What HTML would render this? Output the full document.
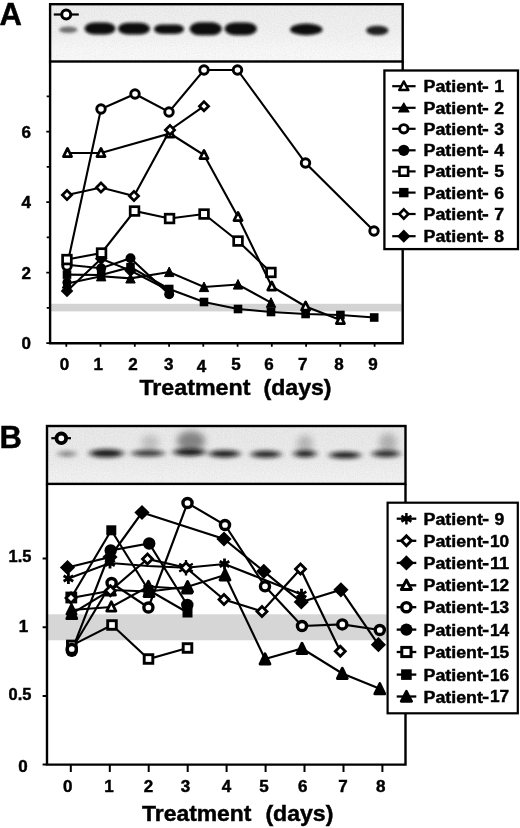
<!DOCTYPE html>
<html><head><meta charset="utf-8"><title>Figure</title>
<style>html,body{margin:0;padding:0;background:#fff}svg{display:block;filter:blur(0.35px)}text{font-family:"Liberation Sans",sans-serif;fill:#000;stroke:#000;stroke-width:0.45px}</style>
</head><body>
<svg width="520" height="828" viewBox="0 0 520 828">
<defs>
<filter id="b1" x="-20%" y="-60%" width="140%" height="220%"><feGaussianBlur stdDeviation="1.7 1.4"/></filter>
<filter id="b2" x="-20%" y="-80%" width="140%" height="260%"><feGaussianBlur stdDeviation="3.0 1.9"/></filter>
<filter id="b3" x="-30%" y="-30%" width="160%" height="160%"><feGaussianBlur stdDeviation="3.5"/></filter>
<filter id="nz" x="0" y="0" width="100%" height="100%" color-interpolation-filters="sRGB"><feTurbulence type="fractalNoise" baseFrequency="0.9" numOctaves="2" seed="3" result="t"/><feColorMatrix in="t" type="matrix" values="0 0 0 0 0  0 0 0 0 0  0 0 0 0 0  0.8 0.8 0.8 0 -0.95"/></filter>
<linearGradient id="gB" x1="0" y1="0" x2="0" y2="1"><stop offset="0" stop-color="#eaeaea"/><stop offset="0.6" stop-color="#ececec"/><stop offset="0.8" stop-color="#f1f1f1"/><stop offset="1" stop-color="#f3f3f3"/></linearGradient>
<linearGradient id="gA" x1="0" y1="0" x2="0" y2="1"><stop offset="0" stop-color="#eeeeee"/><stop offset="0.5" stop-color="#f2f2f2"/><stop offset="0.8" stop-color="#f9f9f9"/><stop offset="1" stop-color="#fafafa"/></linearGradient>
</defs>
<rect width="520" height="828" fill="#fff"/>
<g id="gelA">
<rect x="50.1" y="4.2" width="352.6" height="57.3" fill="url(#gA)"/>
<rect x="50.1" y="4.2" width="352.6" height="57.3" fill="#888" filter="url(#nz)" opacity="0.07"/>
<rect x="59.0" y="26.6" width="18.5" height="6.4" rx="9.2" ry="3.2" fill="#444" opacity="0.75" filter="url(#b1)"/>
<rect x="84.5" y="22.4" width="31.0" height="12.0" rx="10.2" ry="6.0" fill="#0a0a0a" opacity="1" filter="url(#b1)"/>
<rect x="118.0" y="22.7" width="32.0" height="11.8" rx="10.0" ry="5.9" fill="#0a0a0a" opacity="1" filter="url(#b1)"/>
<rect x="154.0" y="24.4" width="30.0" height="9.6" rx="8.2" ry="4.8" fill="#0a0a0a" opacity="1" filter="url(#b1)"/>
<rect x="189.5" y="22.3" width="32.5" height="13.0" rx="11.0" ry="6.5" fill="#0a0a0a" opacity="1" filter="url(#b1)"/>
<rect x="224.5" y="22.4" width="32.5" height="12.8" rx="10.9" ry="6.4" fill="#0a0a0a" opacity="1" filter="url(#b1)"/>
<rect x="290.0" y="23.6" width="32.5" height="11.6" rx="16.2" ry="5.8" fill="#0a0a0a" opacity="1" filter="url(#b1)"/>
<rect x="366.0" y="25.7" width="22.5" height="9.6" rx="11.2" ry="4.8" fill="#151515" opacity="0.95" filter="url(#b1)"/>
</g>
<rect x="51.1" y="303.8" width="350.6" height="7.6" fill="#d3d3d3"/>
<g fill="none" stroke="#000" stroke-width="2.4">
<rect x="50.1" y="4.2" width="352.6" height="57.3"/>
<path d="M50.1,61.5V343.2H402.7V61.5"/>
</g>
<path d="M46.3,343.2H50.1M46.7,307.9H50.1M46.3,272.7H50.1M46.7,237.4H50.1M46.3,202.2H50.1M46.7,166.9H50.1M46.3,131.7H50.1M46.7,96.4H50.1" stroke="#000" stroke-width="1.8" fill="none"/>
<path d="M66.3,343.2V346.8M100.5,343.2V346.8M134.8,343.2V346.8M169.1,343.2V346.8M203.3,343.2V346.8M237.6,343.2V346.8M271.8,343.2V346.8M306.1,343.2V346.8M340.3,343.2V346.8M374.6,343.2V346.8" stroke="#000" stroke-width="1.8" fill="none"/>
<text x="21.6" y="349.4" font-size="17" font-weight="bold" text-anchor="start">0</text>
<text x="21.6" y="278.9" font-size="17" font-weight="bold" text-anchor="start">2</text>
<text x="21.6" y="208.4" font-size="17" font-weight="bold" text-anchor="start">4</text>
<text x="21.6" y="137.9" font-size="17" font-weight="bold" text-anchor="start">6</text>
<text x="64.4" y="370.0" font-size="17" font-weight="bold" text-anchor="middle">0</text>
<text x="98.2" y="370.0" font-size="17" font-weight="bold" text-anchor="middle">1</text>
<text x="133.0" y="370.0" font-size="17" font-weight="bold" text-anchor="middle">2</text>
<text x="168.8" y="370.0" font-size="17" font-weight="bold" text-anchor="middle">3</text>
<text x="201.5" y="372.0" font-size="17" font-weight="bold" text-anchor="middle">4</text>
<text x="236.0" y="370.0" font-size="17" font-weight="bold" text-anchor="middle">5</text>
<text x="269.0" y="370.0" font-size="17" font-weight="bold" text-anchor="middle">6</text>
<text x="302.7" y="370.0" font-size="17" font-weight="bold" text-anchor="middle">7</text>
<text x="339.0" y="370.0" font-size="17" font-weight="bold" text-anchor="middle">8</text>
<text x="373.0" y="370.0" font-size="17" font-weight="bold" text-anchor="middle">9</text>
<text x="139.4" y="395.3" font-size="22" font-weight="bold" text-anchor="start" textLength="111.0" lengthAdjust="spacingAndGlyphs">Treatment</text>
<text x="263.5" y="395.3" font-size="22" font-weight="bold" text-anchor="start" textLength="68.0" lengthAdjust="spacingAndGlyphs">(days)</text>
<text x="-0.6" y="25.0" font-size="31" font-weight="bold" text-anchor="start">A</text>
<g id="linesA">
<polyline fill="none" stroke="#000" stroke-width="2.1" points="67.5,153.0 101.0,153.0 170.0,133.5 204.0,155.0 238.0,217.0 271.8,286.5 305.6,306.5 340.4,320.0"/>
<polyline fill="none" stroke="#000" stroke-width="2.1" points="67.0,283.5 101.2,276.3 130.5,278.4 169.2,272.0 204.0,287.0 238.0,284.5 271.0,302.7"/>
<polyline fill="none" stroke="#000" stroke-width="2.1" points="67.0,266.0 101.0,109.0 135.0,94.0 169.0,112.0 204.0,70.0 237.5,70.0 305.5,163.0 374.0,231.0"/>
<polyline fill="none" stroke="#000" stroke-width="2.1" points="67.0,264.8 101.2,268.2 130.5,258.2 169.2,294.3"/>
<polyline fill="none" stroke="#000" stroke-width="2.1" points="67.0,259.5 101.5,253.0 134.5,211.0 169.5,218.5 204.0,214.0 238.0,241.0 271.0,272.5"/>
<polyline fill="none" stroke="#000" stroke-width="2.1" points="67.0,274.6 101.2,275.0 130.5,267.2 169.2,289.0 204.0,302.0 238.0,309.0 271.0,312.0 305.6,314.0 340.4,315.0 374.2,317.5"/>
<polyline fill="none" stroke="#000" stroke-width="2.1" points="67.0,195.0 101.0,187.5 134.0,196.0 170.0,130.0 204.0,106.2"/>
<polyline fill="none" stroke="#000" stroke-width="2.1" points="67.0,291.0 101.2,258.8 130.5,270.6"/>
<polyline fill="none" stroke="#000" stroke-width="2.1" points="130.5,270.6 169.2,290.5"/>
</g><g id="marksA">
<polygon points="67.0,278.5 71.7,288.1 62.3,288.1" fill="#000" stroke="#000" stroke-width="1.0" stroke-linejoin="round"/>
<polygon points="101.2,271.3 105.9,280.9 96.5,280.9" fill="#000" stroke="#000" stroke-width="1.0" stroke-linejoin="round"/>
<polygon points="130.5,273.4 135.2,283.0 125.8,283.0" fill="#000" stroke="#000" stroke-width="1.0" stroke-linejoin="round"/>
<polygon points="169.2,267.0 173.9,276.6 164.5,276.6" fill="#000" stroke="#000" stroke-width="1.0" stroke-linejoin="round"/>
<polygon points="204.0,282.0 208.7,291.6 199.3,291.6" fill="#000" stroke="#000" stroke-width="1.0" stroke-linejoin="round"/>
<polygon points="238.0,279.5 242.7,289.1 233.3,289.1" fill="#000" stroke="#000" stroke-width="1.0" stroke-linejoin="round"/>
<polygon points="271.0,297.7 275.7,307.3 266.3,307.3" fill="#000" stroke="#000" stroke-width="1.0" stroke-linejoin="round"/>
<circle cx="67.0" cy="264.8" r="5.0" fill="#000"/>
<circle cx="101.2" cy="268.2" r="5.0" fill="#000"/>
<circle cx="130.5" cy="258.2" r="5.0" fill="#000"/>
<circle cx="169.2" cy="294.3" r="5.0" fill="#000"/>
<circle cx="67.0" cy="282.6" r="4.6" fill="#000"/>
<rect x="62.7" y="270.3" width="8.6" height="8.6" fill="#000"/>
<rect x="96.9" y="270.7" width="8.6" height="8.6" fill="#000"/>
<rect x="126.2" y="262.9" width="8.6" height="8.6" fill="#000"/>
<rect x="164.9" y="284.7" width="8.6" height="8.6" fill="#000"/>
<rect x="199.7" y="297.7" width="8.6" height="8.6" fill="#000"/>
<rect x="233.7" y="304.7" width="8.6" height="8.6" fill="#000"/>
<rect x="266.7" y="307.7" width="8.6" height="8.6" fill="#000"/>
<rect x="301.3" y="309.7" width="8.6" height="8.6" fill="#000"/>
<rect x="336.1" y="310.7" width="8.6" height="8.6" fill="#000"/>
<rect x="369.9" y="313.2" width="8.6" height="8.6" fill="#000"/>
<polygon points="67.0,284.7 73.3,291.0 67.0,297.3 60.7,291.0" fill="#000"/>
<polygon points="101.2,252.5 107.5,258.8 101.2,265.1 94.9,258.8" fill="#000"/>
<polygon points="130.5,264.3 136.8,270.6 130.5,276.9 124.2,270.6" fill="#000"/>
<polygon points="67.5,148.4 71.6,156.6 63.4,156.6" fill="#fff" stroke="#000" stroke-width="2.7" stroke-linejoin="round"/>
<polygon points="101.0,148.4 105.1,156.6 96.9,156.6" fill="#fff" stroke="#000" stroke-width="2.7" stroke-linejoin="round"/>
<polygon points="170.0,128.9 174.1,137.1 165.9,137.1" fill="#fff" stroke="#000" stroke-width="2.7" stroke-linejoin="round"/>
<polygon points="204.0,150.4 208.1,158.6 199.9,158.6" fill="#fff" stroke="#000" stroke-width="2.7" stroke-linejoin="round"/>
<polygon points="238.0,212.4 242.1,220.6 233.9,220.6" fill="#fff" stroke="#000" stroke-width="2.7" stroke-linejoin="round"/>
<polygon points="271.8,281.9 275.9,290.1 267.7,290.1" fill="#fff" stroke="#000" stroke-width="2.7" stroke-linejoin="round"/>
<polygon points="305.6,301.9 309.7,310.1 301.5,310.1" fill="#fff" stroke="#000" stroke-width="2.7" stroke-linejoin="round"/>
<polygon points="340.4,315.4 344.5,323.6 336.3,323.6" fill="#fff" stroke="#000" stroke-width="2.7" stroke-linejoin="round"/>
<circle cx="67.0" cy="266.0" r="4.25" fill="#fff" stroke="#000" stroke-width="2.9"/>
<circle cx="101.0" cy="109.0" r="4.25" fill="#fff" stroke="#000" stroke-width="2.9"/>
<circle cx="135.0" cy="94.0" r="4.25" fill="#fff" stroke="#000" stroke-width="2.9"/>
<circle cx="169.0" cy="112.0" r="4.25" fill="#fff" stroke="#000" stroke-width="2.9"/>
<circle cx="204.0" cy="70.0" r="4.25" fill="#fff" stroke="#000" stroke-width="2.9"/>
<circle cx="237.5" cy="70.0" r="4.25" fill="#fff" stroke="#000" stroke-width="2.9"/>
<circle cx="305.5" cy="163.0" r="4.25" fill="#fff" stroke="#000" stroke-width="2.9"/>
<circle cx="374.0" cy="231.0" r="4.25" fill="#fff" stroke="#000" stroke-width="2.9"/>
<rect x="62.6" y="255.2" width="8.7" height="8.7" fill="#fff" stroke="#000" stroke-width="2.7"/>
<rect x="97.2" y="248.7" width="8.7" height="8.7" fill="#fff" stroke="#000" stroke-width="2.7"/>
<rect x="130.2" y="206.7" width="8.7" height="8.7" fill="#fff" stroke="#000" stroke-width="2.7"/>
<rect x="165.2" y="214.2" width="8.7" height="8.7" fill="#fff" stroke="#000" stroke-width="2.7"/>
<rect x="199.7" y="209.7" width="8.7" height="8.7" fill="#fff" stroke="#000" stroke-width="2.7"/>
<rect x="233.7" y="236.7" width="8.7" height="8.7" fill="#fff" stroke="#000" stroke-width="2.7"/>
<rect x="266.6" y="268.1" width="8.7" height="8.7" fill="#fff" stroke="#000" stroke-width="2.7"/>
<polygon points="67.0,190.4 71.6,195.0 67.0,199.6 62.4,195.0" fill="#fff" stroke="#000" stroke-width="2.7"/>
<polygon points="101.0,182.9 105.6,187.5 101.0,192.1 96.4,187.5" fill="#fff" stroke="#000" stroke-width="2.7"/>
<polygon points="134.0,191.4 138.6,196.0 134.0,200.6 129.4,196.0" fill="#fff" stroke="#000" stroke-width="2.7"/>
<polygon points="170.0,125.4 174.6,130.0 170.0,134.6 165.4,130.0" fill="#fff" stroke="#000" stroke-width="2.7"/>
<polygon points="204.0,101.6 208.6,106.2 204.0,110.8 199.4,106.2" fill="#fff" stroke="#000" stroke-width="2.7"/>
</g>
<path d="M53.8,14.5H78.8" stroke="#000" stroke-width="2.2"/><circle cx="66.2" cy="14.5" r="4.5" fill="#fff" stroke="#000" stroke-width="3.0"/>
<rect x="384.4" y="70.5" width="133.6" height="178.6" fill="#fff" stroke="#000" stroke-width="2.3"/>
<path d="M392.2,86.2H415.6" stroke="#000" stroke-width="2.2"/>
<polygon points="403.8,81.5 408.3,90.0 399.3,90.0" fill="#fff" stroke="#000" stroke-width="2.6" stroke-linejoin="round"/>
<text x="423.5" y="92.2" font-size="16.8" font-weight="bold" text-anchor="start" textLength="59.4" lengthAdjust="spacingAndGlyphs">Patient</text>
<rect x="482.4" y="86.3" width="5.8" height="2.6" fill="#000"/>
<text x="494.2" y="92.1" font-size="16.8" font-weight="bold" text-anchor="start" textLength="9.8" lengthAdjust="spacingAndGlyphs">1</text>
<path d="M392.2,107.8H415.6" stroke="#000" stroke-width="2.2"/>
<polygon points="403.8,103.0 409.0,112.0 398.6,112.0" fill="#000" stroke="#000" stroke-width="1.2" stroke-linejoin="round"/>
<text x="423.5" y="113.8" font-size="16.8" font-weight="bold" text-anchor="start" textLength="59.4" lengthAdjust="spacingAndGlyphs">Patient</text>
<rect x="482.4" y="107.9" width="5.8" height="2.6" fill="#000"/>
<text x="494.2" y="113.7" font-size="16.8" font-weight="bold" text-anchor="start" textLength="9.8" lengthAdjust="spacingAndGlyphs">2</text>
<path d="M392.2,128.8H415.6" stroke="#000" stroke-width="2.2"/>
<circle cx="403.8" cy="128.8" r="4.2" fill="#fff" stroke="#000" stroke-width="2.9"/>
<text x="423.5" y="134.8" font-size="16.8" font-weight="bold" text-anchor="start" textLength="59.4" lengthAdjust="spacingAndGlyphs">Patient</text>
<rect x="482.4" y="128.9" width="5.8" height="2.6" fill="#000"/>
<text x="494.2" y="134.7" font-size="16.8" font-weight="bold" text-anchor="start" textLength="9.8" lengthAdjust="spacingAndGlyphs">3</text>
<path d="M392.2,150.3H415.6" stroke="#000" stroke-width="2.2"/>
<circle cx="403.8" cy="150.3" r="5.6" fill="#000"/>
<text x="423.5" y="156.3" font-size="16.8" font-weight="bold" text-anchor="start" textLength="59.4" lengthAdjust="spacingAndGlyphs">Patient</text>
<rect x="482.4" y="150.4" width="5.8" height="2.6" fill="#000"/>
<text x="494.2" y="156.2" font-size="16.8" font-weight="bold" text-anchor="start" textLength="9.8" lengthAdjust="spacingAndGlyphs">4</text>
<path d="M392.2,171.4H415.6" stroke="#000" stroke-width="2.2"/>
<rect x="399.5" y="167.1" width="8.6" height="8.6" fill="#fff" stroke="#000" stroke-width="2.6"/>
<text x="423.5" y="177.4" font-size="16.8" font-weight="bold" text-anchor="start" textLength="59.4" lengthAdjust="spacingAndGlyphs">Patient</text>
<rect x="482.4" y="171.5" width="5.8" height="2.6" fill="#000"/>
<text x="494.2" y="177.3" font-size="16.8" font-weight="bold" text-anchor="start" textLength="9.8" lengthAdjust="spacingAndGlyphs">5</text>
<path d="M392.2,192.6H415.6" stroke="#000" stroke-width="2.2"/>
<rect x="399.1" y="187.9" width="9.4" height="9.4" fill="#000"/>
<text x="423.5" y="198.6" font-size="16.8" font-weight="bold" text-anchor="start" textLength="59.4" lengthAdjust="spacingAndGlyphs">Patient</text>
<rect x="482.4" y="192.7" width="5.8" height="2.6" fill="#000"/>
<text x="494.2" y="198.5" font-size="16.8" font-weight="bold" text-anchor="start" textLength="9.8" lengthAdjust="spacingAndGlyphs">6</text>
<path d="M392.2,214.0H415.6" stroke="#000" stroke-width="2.2"/>
<polygon points="403.8,209.4 408.4,214.0 403.8,218.6 399.2,214.0" fill="#fff" stroke="#000" stroke-width="2.6"/>
<text x="423.5" y="220.0" font-size="16.8" font-weight="bold" text-anchor="start" textLength="59.4" lengthAdjust="spacingAndGlyphs">Patient</text>
<rect x="482.4" y="214.1" width="5.8" height="2.6" fill="#000"/>
<text x="494.2" y="219.9" font-size="16.8" font-weight="bold" text-anchor="start" textLength="9.8" lengthAdjust="spacingAndGlyphs">7</text>
<path d="M392.2,236.2H415.6" stroke="#000" stroke-width="2.2"/>
<polygon points="403.8,229.6 410.4,236.2 403.8,242.8 397.2,236.2" fill="#000"/>
<text x="423.5" y="242.2" font-size="16.8" font-weight="bold" text-anchor="start" textLength="59.4" lengthAdjust="spacingAndGlyphs">Patient</text>
<rect x="482.4" y="236.3" width="5.8" height="2.6" fill="#000"/>
<text x="494.2" y="242.1" font-size="16.8" font-weight="bold" text-anchor="start" textLength="9.8" lengthAdjust="spacingAndGlyphs">8</text>
<g id="gelB">
<rect x="47.0" y="426.0" width="358.5" height="57.9" fill="url(#gB)"/>
<rect x="47.0" y="426.0" width="358.5" height="57.9" fill="#888" filter="url(#nz)" opacity="0.07"/>
<ellipse cx="150.0" cy="443.0" rx="9.0" ry="8.0" fill="#333" opacity="0.22" filter="url(#b3)"/>
<ellipse cx="191.0" cy="441.0" rx="14.0" ry="10.0" fill="#333" opacity="0.55" filter="url(#b3)"/>
<ellipse cx="305.0" cy="444.0" rx="8.0" ry="9.0" fill="#333" opacity="0.28" filter="url(#b3)"/>
<ellipse cx="388.0" cy="443.0" rx="9.0" ry="10.0" fill="#333" opacity="0.3" filter="url(#b3)"/>
<ellipse cx="67.0" cy="453.8" rx="9.0" ry="2.6" fill="#111" opacity="0.5" filter="url(#b2)"/>
<ellipse cx="106.5" cy="453.3" rx="17.0" ry="4.0" fill="#111" opacity="0.95" filter="url(#b2)"/>
<ellipse cx="148.0" cy="453.2" rx="16.5" ry="3.2" fill="#111" opacity="0.8" filter="url(#b2)"/>
<ellipse cx="189.5" cy="452.2" rx="16.0" ry="3.7" fill="#111" opacity="0.95" filter="url(#b2)"/>
<ellipse cx="224.5" cy="453.8" rx="15.5" ry="3.6" fill="#111" opacity="0.95" filter="url(#b2)"/>
<ellipse cx="266.0" cy="454.2" rx="15.0" ry="3.5" fill="#111" opacity="0.9" filter="url(#b2)"/>
<ellipse cx="305.0" cy="453.8" rx="11.5" ry="3.5" fill="#111" opacity="0.9" filter="url(#b2)"/>
<ellipse cx="345.0" cy="455.2" rx="15.5" ry="3.4" fill="#111" opacity="0.95" filter="url(#b2)"/>
<ellipse cx="386.0" cy="453.8" rx="14.0" ry="3.5" fill="#111" opacity="0.85" filter="url(#b2)"/>
</g>
<rect x="48.0" y="614.3" width="340.0" height="26" fill="#d6d6d6"/>
<g fill="none" stroke="#000" stroke-width="2.4">
<rect x="47.0" y="426.0" width="358.5" height="57.9"/>
<path d="M47.0,483.9V764.6H405.5V483.9"/>
</g>
<path d="M42.6,764.6H47.0M42.6,695.9H47.0M42.6,627.2H47.0M42.6,558.5H47.0" stroke="#000" stroke-width="2" fill="none"/>
<path d="M70.8,764.6V772.0M109.8,764.6V772.0M148.7,764.6V772.0M187.7,764.6V772.0M226.6,764.6V772.0M265.6,764.6V772.0M304.5,764.6V772.0M343.5,764.6V772.0M382.4,764.6V772.0" stroke="#000" stroke-width="2" fill="none"/>
<text x="18.2" y="772.4" font-size="17" font-weight="bold" text-anchor="start">0</text>
<text x="8.6" y="700.1" font-size="17" font-weight="bold" text-anchor="start" textLength="22.8" lengthAdjust="spacingAndGlyphs">0.5</text>
<text x="18.8" y="632.2" font-size="17" font-weight="bold" text-anchor="start">1</text>
<text x="8.6" y="562.4" font-size="17" font-weight="bold" text-anchor="start" textLength="22.8" lengthAdjust="spacingAndGlyphs">1.5</text>
<text x="67.7" y="791.8" font-size="17" font-weight="bold" text-anchor="middle">0</text>
<text x="109.0" y="791.8" font-size="17" font-weight="bold" text-anchor="middle">1</text>
<text x="148.5" y="791.8" font-size="17" font-weight="bold" text-anchor="middle">2</text>
<text x="185.4" y="791.8" font-size="17" font-weight="bold" text-anchor="middle">3</text>
<text x="226.5" y="791.8" font-size="17" font-weight="bold" text-anchor="middle">4</text>
<text x="264.0" y="791.8" font-size="17" font-weight="bold" text-anchor="middle">5</text>
<text x="302.7" y="791.8" font-size="17" font-weight="bold" text-anchor="middle">6</text>
<text x="343.0" y="791.8" font-size="17" font-weight="bold" text-anchor="middle">7</text>
<text x="380.8" y="791.8" font-size="17" font-weight="bold" text-anchor="middle">8</text>
<text x="142.0" y="820.8" font-size="22" font-weight="bold" text-anchor="start" textLength="109.5" lengthAdjust="spacingAndGlyphs">Treatment</text>
<text x="265.4" y="820.8" font-size="22" font-weight="bold" text-anchor="start" textLength="68.0" lengthAdjust="spacingAndGlyphs">(days)</text>
<text x="-0.4" y="447.8" font-size="31" font-weight="bold" text-anchor="start">B</text>
<g id="linesB">
<polyline fill="none" stroke="#000" stroke-width="2.15" points="68.4,578.5 110.0,563.0 148.0,566.0 186.0,567.7 224.5,564.0 301.5,594.4"/>
<polyline fill="none" stroke="#000" stroke-width="2.15" points="71.0,598.0 110.4,590.7 147.5,559.0 186.0,567.7 224.0,599.5 262.0,611.4 300.5,569.0 340.3,651.3"/>
<polyline fill="none" stroke="#000" stroke-width="2.15" points="67.5,567.5 110.0,557.0 142.0,512.5 224.0,539.0 263.8,571.3 301.3,602.0 340.9,589.8 378.4,644.7"/>
<polyline fill="none" stroke="#000" stroke-width="2.15" points="71.5,610.0 111.3,607.0 148.4,586.5 187.2,589.0"/>
<polyline fill="none" stroke="#000" stroke-width="2.15" points="71.8,649.0 111.6,583.0 148.4,607.5 187.5,503.0 225.0,525.0 265.0,586.3 302.0,626.0 342.3,624.4 379.8,630.0"/>
<polyline fill="none" stroke="#000" stroke-width="2.15" points="71.8,650.8 110.7,550.5 149.2,543.5 187.3,605.0"/>
<polyline fill="none" stroke="#000" stroke-width="2.15" points="71.8,645.4 112.0,625.0 148.5,659.0 187.5,648.0"/>
<polyline fill="none" stroke="#000" stroke-width="2.15" points="71.3,597.5 111.3,530.3 148.4,590.0 187.5,612.5"/>
<polyline fill="none" stroke="#000" stroke-width="2.15" points="71.8,613.6 110.5,590.0 149.0,591.5 187.6,586.7 225.0,575.0 265.0,659.0 302.0,648.5 342.3,673.5 379.8,688.8"/>
</g><g id="marksB">
<polygon points="71.5,604.8 76.1,614.1 66.9,614.1" fill="#fff" stroke="#000" stroke-width="2.8" stroke-linejoin="round"/>
<polygon points="111.3,601.8 115.9,611.1 106.7,611.1" fill="#fff" stroke="#000" stroke-width="2.8" stroke-linejoin="round"/>
<polygon points="148.4,581.3 153.0,590.6 143.8,590.6" fill="#fff" stroke="#000" stroke-width="2.8" stroke-linejoin="round"/>
<polygon points="187.2,583.8 191.8,593.1 182.6,593.1" fill="#fff" stroke="#000" stroke-width="2.8" stroke-linejoin="round"/>
<polygon points="71.8,608.3 76.8,618.7 66.8,618.7" fill="#000" stroke="#000" stroke-width="2.8" stroke-linejoin="round"/>
<polygon points="110.5,584.7 115.5,595.1 105.5,595.1" fill="#000" stroke="#000" stroke-width="2.8" stroke-linejoin="round"/>
<polygon points="149.0,586.2 154.0,596.6 144.0,596.6" fill="#000" stroke="#000" stroke-width="2.8" stroke-linejoin="round"/>
<polygon points="187.6,581.4 192.6,591.8 182.6,591.8" fill="#000" stroke="#000" stroke-width="2.8" stroke-linejoin="round"/>
<polygon points="225.0,569.7 230.0,580.1 220.0,580.1" fill="#000" stroke="#000" stroke-width="2.8" stroke-linejoin="round"/>
<polygon points="265.0,653.7 270.0,664.1 260.0,664.1" fill="#000" stroke="#000" stroke-width="2.8" stroke-linejoin="round"/>
<polygon points="302.0,643.2 307.0,653.6 297.0,653.6" fill="#000" stroke="#000" stroke-width="2.8" stroke-linejoin="round"/>
<polygon points="342.3,668.2 347.3,678.6 337.3,678.6" fill="#000" stroke="#000" stroke-width="2.8" stroke-linejoin="round"/>
<polygon points="379.8,683.5 384.8,693.9 374.8,693.9" fill="#000" stroke="#000" stroke-width="2.8" stroke-linejoin="round"/>
<rect x="65.4" y="591.6" width="11.8" height="11.8" fill="#000"/>
<rect x="106.3" y="525.3" width="10.0" height="10.0" fill="#000"/>
<rect x="143.4" y="585.0" width="10.0" height="10.0" fill="#000"/>
<rect x="182.5" y="607.5" width="10.0" height="10.0" fill="#000"/>
<circle cx="111.6" cy="583.0" r="4.55" fill="#fff" stroke="#000" stroke-width="3.4"/>
<circle cx="148.4" cy="607.5" r="4.55" fill="#fff" stroke="#000" stroke-width="3.4"/>
<circle cx="187.5" cy="503.0" r="4.55" fill="#fff" stroke="#000" stroke-width="3.4"/>
<circle cx="225.0" cy="525.0" r="4.55" fill="#fff" stroke="#000" stroke-width="3.4"/>
<circle cx="265.0" cy="586.3" r="4.55" fill="#fff" stroke="#000" stroke-width="3.4"/>
<circle cx="302.0" cy="626.0" r="4.55" fill="#fff" stroke="#000" stroke-width="3.4"/>
<circle cx="342.3" cy="624.4" r="4.55" fill="#fff" stroke="#000" stroke-width="3.4"/>
<circle cx="379.8" cy="630.0" r="4.55" fill="#fff" stroke="#000" stroke-width="3.4"/>
<circle cx="71.8" cy="650.8" r="6.2" fill="#000"/>
<circle cx="110.7" cy="550.5" r="6.2" fill="#000"/>
<circle cx="149.2" cy="543.5" r="6.2" fill="#000"/>
<circle cx="187.3" cy="605.0" r="6.2" fill="#000"/>
<rect x="67.5" y="641.1" width="8.6" height="8.6" fill="#fff" stroke="#000" stroke-width="2.9"/>
<rect x="107.7" y="620.7" width="8.6" height="8.6" fill="#fff" stroke="#000" stroke-width="2.9"/>
<rect x="144.2" y="654.7" width="8.6" height="8.6" fill="#fff" stroke="#000" stroke-width="2.9"/>
<rect x="183.2" y="643.7" width="8.6" height="8.6" fill="#fff" stroke="#000" stroke-width="2.9"/>
<circle cx="71.8" cy="649.0" r="4.55" fill="#fff" stroke="#000" stroke-width="3.4"/>
<polygon points="67.5,559.9 75.1,567.5 67.5,575.1 59.9,567.5" fill="#000"/>
<polygon points="110.0,549.4 117.6,557.0 110.0,564.6 102.4,557.0" fill="#000"/>
<polygon points="142.0,504.9 149.6,512.5 142.0,520.1 134.4,512.5" fill="#000"/>
<polygon points="224.0,531.4 231.6,539.0 224.0,546.6 216.4,539.0" fill="#000"/>
<polygon points="263.8,563.7 271.4,571.3 263.8,578.9 256.2,571.3" fill="#000"/>
<polygon points="301.3,594.4 308.9,602.0 301.3,609.6 293.7,602.0" fill="#000"/>
<polygon points="340.9,582.2 348.5,589.8 340.9,597.4 333.3,589.8" fill="#000"/>
<polygon points="378.4,637.1 386.0,644.7 378.4,652.3 370.8,644.7" fill="#000"/>
<path d="M186.0,559.9L186.0,575.5M179.2,563.8L192.8,571.6M192.8,563.8L179.2,571.6" stroke="#000" stroke-width="2.3" fill="none"/><circle cx="186.0" cy="567.7" r="2.2" fill="#000"/>
<polygon points="71.0,593.0 76.0,598.0 71.0,603.0 66.0,598.0" fill="#fff" stroke="#000" stroke-width="2.8"/>
<polygon points="110.4,585.7 115.4,590.7 110.4,595.7 105.4,590.7" fill="#fff" stroke="#000" stroke-width="2.8"/>
<polygon points="147.5,554.0 152.5,559.0 147.5,564.0 142.5,559.0" fill="#fff" stroke="#000" stroke-width="2.8"/>
<polygon points="186.0,562.7 191.0,567.7 186.0,572.7 181.0,567.7" fill="#fff" stroke="#000" stroke-width="2.8"/>
<polygon points="224.0,594.5 229.0,599.5 224.0,604.5 219.0,599.5" fill="#fff" stroke="#000" stroke-width="2.8"/>
<polygon points="262.0,606.4 267.0,611.4 262.0,616.4 257.0,611.4" fill="#fff" stroke="#000" stroke-width="2.8"/>
<polygon points="300.5,564.0 305.5,569.0 300.5,574.0 295.5,569.0" fill="#fff" stroke="#000" stroke-width="2.8"/>
<polygon points="340.3,646.3 345.3,651.3 340.3,656.3 335.3,651.3" fill="#fff" stroke="#000" stroke-width="2.8"/>
<path d="M68.4,572.9L68.4,584.1M63.6,575.7L73.2,581.3M73.2,575.7L63.6,581.3" stroke="#000" stroke-width="2.8" fill="none"/><circle cx="68.4" cy="578.5" r="2.7" fill="#000"/>
<path d="M110.0,557.4L110.0,568.6M105.2,560.2L114.8,565.8M114.8,560.2L105.2,565.8" stroke="#000" stroke-width="2.8" fill="none"/><circle cx="110.0" cy="563.0" r="2.7" fill="#000"/>
<path d="M224.5,558.4L224.5,569.6M219.7,561.2L229.3,566.8M229.3,561.2L219.7,566.8" stroke="#000" stroke-width="2.8" fill="none"/><circle cx="224.5" cy="564.0" r="2.7" fill="#000"/>
<path d="M301.5,588.8L301.5,600.0M296.7,591.6L306.3,597.2M306.3,591.6L296.7,597.2" stroke="#000" stroke-width="2.8" fill="none"/><circle cx="301.5" cy="594.4" r="2.7" fill="#000"/>
</g>
<path d="M51.3,438.2H71" stroke="#000" stroke-width="2.2"/><circle cx="61.3" cy="438.3" r="4.8" fill="#fff" stroke="#000" stroke-width="3.8"/>
<rect x="387.6" y="502.7" width="130.2" height="210.6" fill="#fff" stroke="#000" stroke-width="2.2"/>
<path d="M396.7,518.7H416.3" stroke="#000" stroke-width="2.3"/>
<path d="M406.4,512.9L406.4,524.5M401.4,515.8L411.4,521.6M411.4,515.8L401.4,521.6" stroke="#000" stroke-width="2.5" fill="none"/><circle cx="406.4" cy="518.7" r="2.4" fill="#000"/>
<text x="423.5" y="524.7" font-size="16.8" font-weight="bold" text-anchor="start" textLength="59.4" lengthAdjust="spacingAndGlyphs">Patient</text>
<rect x="482.6" y="518.8" width="6" height="2.6" fill="#000"/>
<text x="494.4" y="524.6" font-size="16.8" font-weight="bold" text-anchor="start" textLength="9.8" lengthAdjust="spacingAndGlyphs">9</text>
<path d="M396.7,540.8H416.3" stroke="#000" stroke-width="2.3"/>
<polygon points="406.4,535.9 411.3,540.8 406.4,545.7 401.5,540.8" fill="#fff" stroke="#000" stroke-width="2.9"/>
<text x="423.5" y="546.8" font-size="16.8" font-weight="bold" text-anchor="start" textLength="59.4" lengthAdjust="spacingAndGlyphs">Patient</text>
<rect x="482.6" y="540.9" width="6" height="2.6" fill="#000"/>
<text x="489.9" y="546.7" font-size="16.8" font-weight="bold" text-anchor="start" textLength="19.2" lengthAdjust="spacingAndGlyphs">10</text>
<path d="M396.7,562.9H416.3" stroke="#000" stroke-width="2.3"/>
<polygon points="406.4,555.2 414.1,562.9 406.4,570.6 398.7,562.9" fill="#000"/>
<text x="423.5" y="568.9" font-size="16.8" font-weight="bold" text-anchor="start" textLength="59.4" lengthAdjust="spacingAndGlyphs">Patient</text>
<rect x="482.6" y="563.0" width="6" height="2.6" fill="#000"/>
<text x="489.9" y="568.8" font-size="16.8" font-weight="bold" text-anchor="start" textLength="19.2" lengthAdjust="spacingAndGlyphs">11</text>
<path d="M396.7,585.3H416.3" stroke="#000" stroke-width="2.3"/>
<polygon points="406.4,580.1 411.4,589.5 401.4,589.5" fill="#fff" stroke="#000" stroke-width="3.0" stroke-linejoin="round"/>
<text x="423.5" y="591.3" font-size="16.8" font-weight="bold" text-anchor="start" textLength="59.4" lengthAdjust="spacingAndGlyphs">Patient</text>
<rect x="482.6" y="585.4" width="6" height="2.6" fill="#000"/>
<text x="489.9" y="591.2" font-size="16.8" font-weight="bold" text-anchor="start" textLength="19.2" lengthAdjust="spacingAndGlyphs">12</text>
<path d="M396.7,607.2H416.3" stroke="#000" stroke-width="2.3"/>
<circle cx="406.4" cy="607.2" r="4.6" fill="#fff" stroke="#000" stroke-width="3.4"/>
<text x="423.5" y="613.2" font-size="16.8" font-weight="bold" text-anchor="start" textLength="59.4" lengthAdjust="spacingAndGlyphs">Patient</text>
<rect x="482.6" y="607.3" width="6" height="2.6" fill="#000"/>
<text x="489.9" y="613.1" font-size="16.8" font-weight="bold" text-anchor="start" textLength="19.2" lengthAdjust="spacingAndGlyphs">13</text>
<path d="M396.7,629.6H416.3" stroke="#000" stroke-width="2.3"/>
<circle cx="406.4" cy="629.6" r="6.1" fill="#000"/>
<text x="423.5" y="635.6" font-size="16.8" font-weight="bold" text-anchor="start" textLength="59.4" lengthAdjust="spacingAndGlyphs">Patient</text>
<rect x="482.6" y="629.7" width="6" height="2.6" fill="#000"/>
<text x="489.9" y="635.5" font-size="16.8" font-weight="bold" text-anchor="start" textLength="19.2" lengthAdjust="spacingAndGlyphs">14</text>
<path d="M396.7,652.0H416.3" stroke="#000" stroke-width="2.3"/>
<rect x="401.8" y="647.4" width="9.2" height="9.2" fill="#fff" stroke="#000" stroke-width="3.0"/>
<text x="423.5" y="658.0" font-size="16.8" font-weight="bold" text-anchor="start" textLength="59.4" lengthAdjust="spacingAndGlyphs">Patient</text>
<rect x="482.6" y="652.1" width="6" height="2.6" fill="#000"/>
<text x="489.9" y="657.9" font-size="16.8" font-weight="bold" text-anchor="start" textLength="19.2" lengthAdjust="spacingAndGlyphs">15</text>
<path d="M396.7,674.6H416.3" stroke="#000" stroke-width="2.3"/>
<rect x="401.1" y="669.3" width="10.6" height="10.6" fill="#000"/>
<text x="423.5" y="680.6" font-size="16.8" font-weight="bold" text-anchor="start" textLength="59.4" lengthAdjust="spacingAndGlyphs">Patient</text>
<rect x="482.6" y="674.7" width="6" height="2.6" fill="#000"/>
<text x="489.9" y="680.5" font-size="16.8" font-weight="bold" text-anchor="start" textLength="19.2" lengthAdjust="spacingAndGlyphs">16</text>
<path d="M396.7,696.5H416.3" stroke="#000" stroke-width="2.3"/>
<polygon points="406.4,691.3 411.6,701.3 401.2,701.3" fill="#000" stroke="#000" stroke-width="2.8" stroke-linejoin="round"/>
<text x="423.5" y="702.5" font-size="16.8" font-weight="bold" text-anchor="start" textLength="59.4" lengthAdjust="spacingAndGlyphs">Patient</text>
<rect x="482.6" y="696.6" width="6" height="2.6" fill="#000"/>
<text x="489.9" y="702.4" font-size="16.8" font-weight="bold" text-anchor="start" textLength="19.2" lengthAdjust="spacingAndGlyphs">17</text>
</svg></body></html>
